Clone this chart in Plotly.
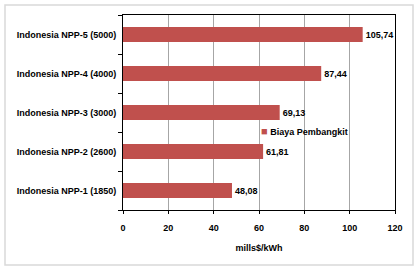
import plotly.graph_objects as go

categories = ["Indonesia NPP-1 (1850)", "Indonesia NPP-2 (2600)", "Indonesia NPP-3 (3000)",
              "Indonesia NPP-4 (4000)", "Indonesia NPP-5 (5000)"]
biaya = [48.08, 61.81, 69.13, 87.44, 105.74]
x_ticks = [0, 20, 40, 60, 80, 100, 120]
series_name = "Biaya Pembangkit"
x_title = "mills$/kWh"

FONT = "Liberation Sans"
RED = "#C0504D"
W, H = 418, 270
L, R, T, B = 123, 23, 15, 60
pw, ph = W - L - R, H - T - B

fig = go.Figure()
fig.add_trace(go.Bar(
    y=categories, x=biaya, orientation="h", name=series_name,
    marker=dict(color=RED, line=dict(width=0)), width=0.38,
    texttemplate="%{x:.2f}", textposition="outside", cliponaxis=False,
    textfont=dict(family=FONT, size=9, color="black", weight="bold"), showlegend=False,
))

def px(xp):
    return (xp - L) / pw

def py(yp):
    return (H - B - yp) / ph

fig.add_annotation(
    x=px(259), y=py(131), xref="paper", yref="paper", xanchor="left", yanchor="middle",
    showarrow=False,
    text=f"<span style='color:{RED};font-size:11px'>■</span><b> {series_name}</b>",
    font=dict(family=FONT, size=9, color="black"),
)

fig.add_shape(type="rect", xref="paper", yref="paper",
              x0=px(5), x1=px(413), y0=py(265), y1=py(5),
              line=dict(color="#D9D9D9", width=1.5), layer="below")

fig.update_layout(
    width=W, height=H, margin=dict(l=L, r=R, t=T, b=B),
    paper_bgcolor="white", plot_bgcolor="white",
    separators=", ",
    font=dict(family=FONT, size=9, color="black"),
    xaxis=dict(range=[0, 120], tickvals=x_ticks, showgrid=True, gridcolor="#A6A6A6", gridwidth=1,
               showline=True, linecolor="black", linewidth=1, mirror=True,
               ticks="outside", ticklen=3, tickcolor="black",
               tickfont=dict(family=FONT, size=9, color="black", weight="bold"),
               ticklabelstandoff=6,
               title=dict(text=f"<b>{x_title}</b>", font=dict(family=FONT, size=9), standoff=12),
               zeroline=False, fixedrange=True),
    yaxis=dict(categoryorder="array", categoryarray=categories, showgrid=False,
               showline=True, linecolor="black", linewidth=1, mirror=True,
               ticks="outside", ticklen=4, tickcolor="black", tickson="boundaries",
               tickfont=dict(family=FONT, size=9, color="black", weight="bold"),
               ticklabelstandoff=4, fixedrange=True),
)

fig.write_html("out.html")
